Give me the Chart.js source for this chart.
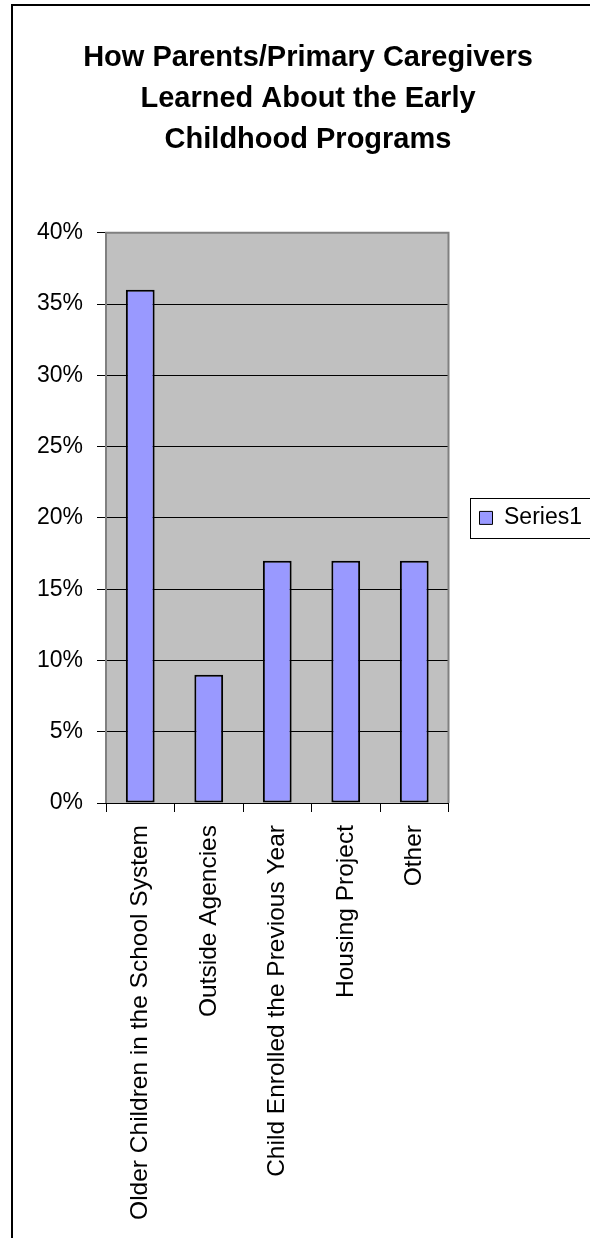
<!DOCTYPE html>
<html>
<head>
<meta charset="utf-8">
<script src="https://cdn.jsdelivr.net/npm/chart.js@4"></script>
<style>
  html, body { margin: 0; padding: 0; background: #fff; }
  #wrap { position: relative; width: 590px; height: 1238px; overflow: hidden; }
  #chart { position: absolute; left: 0; top: 0; }
</style>
</head>
<body>
<div id="wrap"><canvas id="chart" width="606" height="1238"></canvas></div>
<script>
  // ── DATA ──
  const titleLines = ['How Parents/Primary Caregivers', 'Learned About the Early', 'Childhood Programs'];
  const categories = [
    'Older Children in the School System',
    'Outside Agencies',
    'Child Enrolled the Previous Year',
    'Housing Project',
    'Other'
  ];
  const series1 = [0.36, 0.09, 0.17, 0.17, 0.17];
  const seriesName = 'Series1';
  const yMax = 0.4;
  const yStep = 0.05;

  const FONT = '"Liberation Sans", Arial, sans-serif';
  Chart.defaults.color = '#000';
  Chart.defaults.font.family = FONT;

  // ── backgrounds + outer border ──
  const bgPlugin = {
    id: 'bg',
    beforeDraw(chart) {
      const { ctx, chartArea: a } = chart;
      ctx.save();
      ctx.fillStyle = '#fff';
      ctx.fillRect(0, 0, chart.width, chart.height);
      ctx.strokeStyle = '#000';
      ctx.lineWidth = 2;
      ctx.strokeRect(12, 5, chart.width + 20, chart.height + 20);
      ctx.fillStyle = '#c0c0c0';
      ctx.fillRect(a.left, a.top, a.right - a.left, a.bottom - a.top);
      ctx.restore();
    },
    beforeDatasetsDraw(chart) {
      const { ctx, chartArea: a } = chart;
      ctx.save();
      ctx.strokeStyle = '#808080';
      ctx.lineWidth = 2;
      ctx.beginPath();
      ctx.moveTo(a.left, a.bottom);
      ctx.lineTo(a.left, a.top);
      ctx.lineTo(a.right, a.top);
      ctx.lineTo(a.right, a.bottom);
      ctx.stroke();
      ctx.restore();
    },
    afterDraw(chart) {
      const lg = chart.legend;
      if (!lg || !lg.legendHitBoxes || !lg.legendHitBoxes.length) return;
      const hb = lg.legendHitBoxes[0];
      const ctx = chart.ctx;
      const cy = hb.top + hb.height / 2;
      ctx.save();
      ctx.strokeStyle = '#000';
      ctx.lineWidth = 1;
      ctx.strokeRect(Math.round(hb.left - 10) + 0.5, Math.round(cy - 20) + 0.5, 200, 40);
      ctx.restore();
    }
  };

  const ctx = document.getElementById('chart').getContext('2d');
  new Chart(ctx, {
    type: 'bar',
    data: {
      labels: categories,
      datasets: [{
        label: seriesName,
        data: series1,
        backgroundColor: '#9999ff',
        borderColor: '#000',
        borderWidth: 2,
        borderSkipped: false,
        barPercentage: 0.42,
        categoryPercentage: 1
      }]
    },
    options: {
      responsive: false,
      animation: false,
      layout: { padding: { left: 27, right: 17, top: 0, bottom: 0 } },
      plugins: {
        title: {
          display: true,
          text: titleLines,
          font: { size: 29, weight: 'bold', family: FONT, lineHeight: 1.4 },
          color: '#000',
          padding: { top: 38, bottom: 73 }
        },
        legend: {
          position: 'right',
          fullSize: false,
          labels: {
            font: { size: 23, family: FONT },
            boxWidth: 13,
            boxHeight: 13,
            padding: 31,
            color: '#000',
            generateLabels(chart) {
              return Chart.defaults.plugins.legend.labels.generateLabels(chart)
                .map(l => Object.assign(l, { lineWidth: 1 }));
            }
          }
        },
        tooltip: { enabled: false }
      },
      scales: {
        x: {
          grid: { display: true, drawOnChartArea: false, drawTicks: true, tickLength: 9, color: '#000', offset: true },
          border: { display: true, color: '#000', width: 1 },
          ticks: {
            autoSkip: false, minRotation: 90, maxRotation: 90, padding: 13,
            font: { size: 24.5, family: FONT }, color: '#000'
          },
          afterFit(scale) { scale.height = 1238 - 803; }
        },
        y: {
          min: 0,
          max: yMax,
          grid: { color: '#000', lineWidth: 1, tickLength: 9, drawTicks: true },
          border: { display: false },
          ticks: {
            stepSize: yStep, padding: 14,
            font: { size: 23, family: FONT }, color: '#000',
            callback: v => Math.round(v * 100) + '%'
          },
          afterFit(scale) { scale.width = 79; }
        }
      }
    },
    plugins: [bgPlugin]
  });
</script>
</body>
</html>
